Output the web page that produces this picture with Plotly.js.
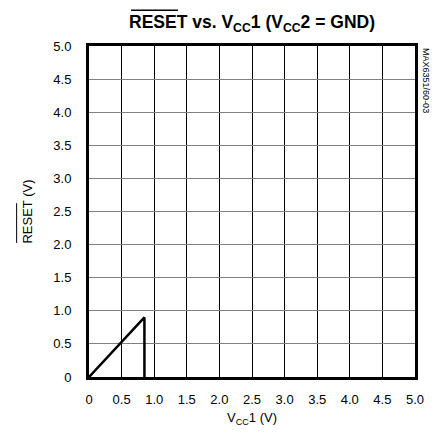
<!DOCTYPE html>
<html>
<head>
<meta charset="utf-8">
<script src="https://cdn.plot.ly/plotly-3.0.1.min.js"></script>
<style>html,body{margin:0;padding:0;background:#fff;}#chart{width:437px;height:436px;}</style>
</head>
<body>
<div id="chart"></div>
<script>
var vcc1 = [0, 0.85, 0.85];
var reset = [0, 0.9, 0];
var tickVals = [0, 0.5, 1.0, 1.5, 2.0, 2.5, 3.0, 3.5, 4.0, 4.5, 5.0];
var tickText = ['0', '0.5', '1.0', '1.5', '2.0', '2.5', '3.0', '3.5', '4.0', '4.5', '5.0'];
var FONT = '"Liberation Sans", Arial, sans-serif';

var trace = {
  x: vcc1, y: reset, type: 'scatter', mode: 'lines',
  line: {color: '#000', width: 2.5}, hoverinfo: 'skip'
};

var layout = {
  width: 437, height: 436,
  margin: {l: 89, r: 22, t: 46, b: 59},
  paper_bgcolor: '#fff', plot_bgcolor: '#fff',
  showlegend: false,
  font: {family: FONT, color: '#000', size: 13},
  title: {
    text: '<b>RESET vs. V<sub>CC</sub>1 (V<sub>CC</sub>2 = GND)</b>',
    font: {family: FONT, size: 17.5, color: '#000'},
    x: 0.5, xref: 'paper', xanchor: 'center', y: 0.95, yanchor: 'middle'
  },
  xaxis: {
    range: [0, 5], tickvals: tickVals, ticktext: tickText,
    showgrid: true, gridcolor: '#000', gridwidth: 1,
    showline: true, linecolor: '#000', linewidth: 3, mirror: true,
    ticks: '', zeroline: false, fixedrange: true, ticklabelstandoff: 8,
    tickfont: {family: FONT, size: 13},
    title: {text: 'V<sub>CC</sub>1 (V)', font: {family: FONT, size: 13}, standoff: 8}
  },
  yaxis: {
    range: [0, 5], tickvals: tickVals, ticktext: tickText,
    showgrid: true, gridcolor: '#808080', gridwidth: 1,
    showline: true, linecolor: '#000', linewidth: 3, mirror: true,
    ticks: '', zeroline: false, fixedrange: true, ticklabelstandoff: 12,
    tickfont: {family: FONT, size: 13},
    title: {text: 'RESET (V)', font: {family: FONT, size: 13}, standoff: 18}
  },
  annotations: [{
    text: 'MAX6351/60-03', xref: 'paper', yref: 'paper', x: 1.035, y: 1.0,
    xanchor: 'center', yanchor: 'top', textangle: 90, showarrow: false,
    font: {family: FONT, size: 9, color: '#000'}
  }],
  shapes: [
    {type: 'line', xref: 'paper', yref: 'paper', x0: 0.129, x1: 0.273, y0: 1.108, y1: 1.108, line: {color: '#000', width: 1.5}},
    {type: 'line', xref: 'paper', yref: 'paper', x0: -0.222, x1: -0.222, y0: 0.405, y1: 0.525, line: {color: '#000', width: 1}}
  ]
};

Plotly.newPlot('chart', [trace], layout, {displayModeBar: false, staticPlot: true});
</script>
</body>
</html>
